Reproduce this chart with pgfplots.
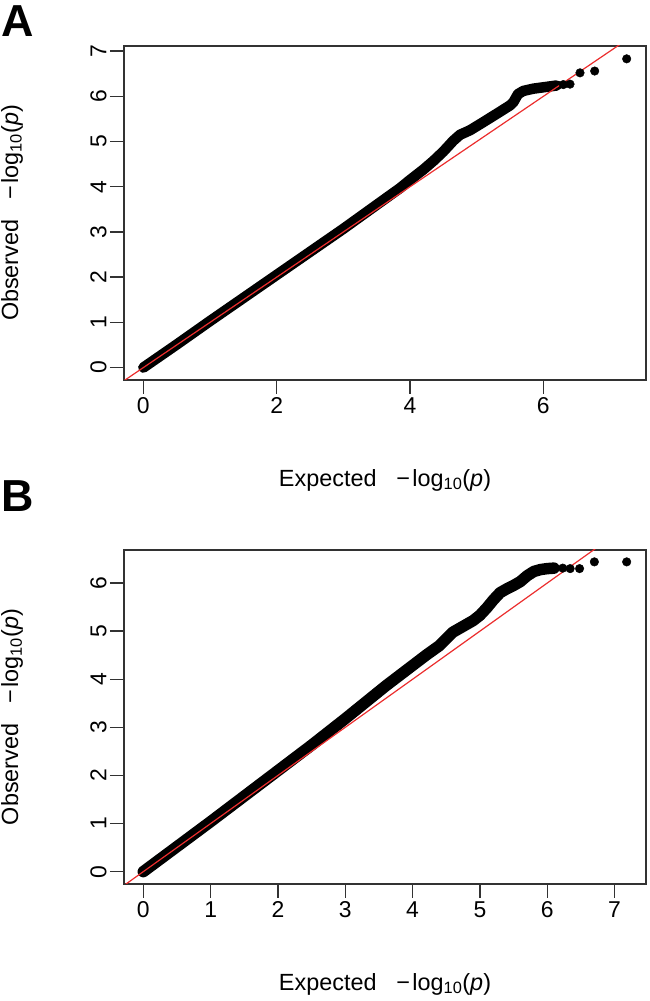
\documentclass[border=0pt]{standalone}
\usepackage{pgfplots}
\pgfplotsset{compat=1.18}
\usepackage{fontspec}
\setmainfont{Liberation Sans}
\definecolor{rline}{RGB}{235,45,45}
\definecolor{frame}{RGB}{50,50,50}
\pgfplotsset{
  qq/.style={
    scale only axis, width=522bp, height=334bp,
    axis line style={frame, line width=1.4bp},
    every tick/.style={frame, line width=1.4bp},
    tick align=outside, major tick length=14bp,
    tick pos=left,
    /pgf/number format/assume math mode=true,
    tick label style={font=\fontsize{23}{23}\selectfont},
    label style={font=\fontsize{23.5}{23.5}\selectfont},
    yticklabel style={rotate=90, anchor=south},
    xlabel={Expected\hspace{0.85em}\char"2212\hspace{0.1em}log\textsubscript{10}(\textit{p})},
    ylabel={Observed\hspace{0.85em}\char"2212\hspace{0.1em}log\textsubscript{10}(\textit{p})},
    xlabel style={at={(axis description cs:0.5,-0.2994)}, anchor=center},
    ylabel style={at={(axis description cs:-0.2146,0.5)}, anchor=center},
  }
}
\begin{document}
\begin{tikzpicture}
\useasboundingbox (0,0) rectangle (650bp,1001bp);
% Panel A
\begin{axis}[qq, at={(124bp,621bp)}, anchor=south west,
  xmin=-0.29, xmax=7.54, ymin=-0.274, ymax=7.114,
  xtick={0,2,4,6}, ytick={0,1,2,3,4,5,6,7}]
\addplot[black, line width=10.5bp, line cap=round, line join=round] coordinates {
(0,0) (0.5,0.51) (1,1.03) (1.5,1.54) (2,2.05) (2.5,2.56) (3,3.07) (3.5,3.6)
(3.85,3.97) (4.0,4.15) (4.2,4.38) (4.35,4.57) (4.5,4.78) (4.65,5.02) (4.75,5.15)
(4.9,5.25) (5.1,5.43) (5.35,5.66) (5.5,5.8) (5.55,5.87) (5.62,6.05) (5.7,6.12)
(5.85,6.17) (6.0,6.2) (6.1,6.22) (6.2,6.24)};
\addplot[only marks, mark=*, mark size=4.3bp, black] coordinates {
(7.25,6.83) (6.77,6.56) (6.55,6.52) (6.40,6.27) (6.30,6.26)};
\addplot[rline, line width=1.2bp] coordinates {(-1,-1) (9,9)};
\end{axis}
% Panel B
\begin{axis}[qq, at={(124bp,117bp)}, anchor=south west,
  xmin=-0.287, xmax=7.467, ymin=-0.257, ymax=6.687,
  xtick={0,1,2,3,4,5,6,7}, ytick={0,1,2,3,4,5,6}]
\addplot[black, line width=11.5bp, line cap=round, line join=round] coordinates {
(0,0) (0.5,0.52) (1.0,1.04) (1.5,1.57) (2.0,2.1) (2.5,2.63) (3.0,3.18) (3.3,3.52)
(3.6,3.86) (3.9,4.18) (4.2,4.5) (4.4,4.7) (4.6,4.98) (4.75,5.1) (4.9,5.22) (5.0,5.33)
(5.1,5.48) (5.2,5.65) (5.3,5.8) (5.4,5.88) (5.5,5.95) (5.6,6.03) (5.7,6.15) (5.8,6.24)
(5.9,6.28) (6.0,6.30) (6.1,6.31)};
\addplot[only marks, mark=*, mark size=4.3bp, black] coordinates {
(7.18,6.44) (6.70,6.44) (6.48,6.30) (6.34,6.30) (6.23,6.31)};
\addplot[rline, line width=1.2bp] coordinates {(-1,-1) (9,9)};
\end{axis}
\node[anchor=base west, inner sep=0pt, font=\fontsize{45}{45}\selectfont\bfseries] at (1bp,964bp) {A};
\node[anchor=base west, inner sep=0pt, font=\fontsize{45}{45}\selectfont\bfseries] at (1bp,489bp) {B};
\end{tikzpicture}
\end{document}
